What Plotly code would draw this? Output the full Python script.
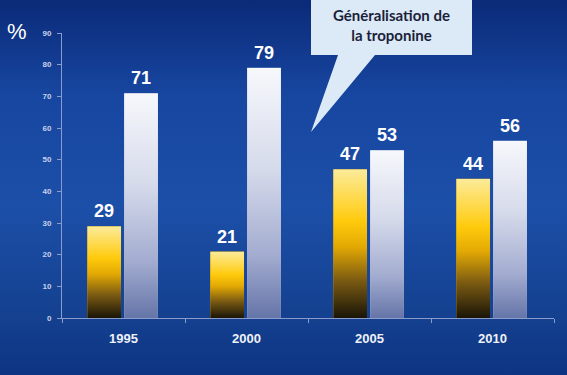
import base64
import plotly.graph_objects as go

# ---- data ----
years = ["1995", "2000", "2005", "2010"]
serie_jaune = [29, 21, 47, 44]
serie_grise = [71, 79, 53, 56]
y_ticks = [0, 10, 20, 30, 40, 50, 60, 70, 80, 90]
callout_text = "Généralisation de<br>la troponine"

W, H = 567, 375
ML, MR, MT, MB = 62, 13, 33, 57
PW, PH = W - ML - MR, H - MT - MB

BAR_W = 0.275
OFF_Y = -0.295
OFF_G = 0.005


def svg_grad(stops):
    st = "".join(f'<stop offset="{o}" stop-color="{c}"/>' for o, c in stops)
    svg = ('<svg xmlns="http://www.w3.org/2000/svg" width="10" height="100" preserveAspectRatio="none">'
           '<defs><linearGradient id="g" x1="0" y1="0" x2="0" y2="1">' + st +
           '</linearGradient></defs><rect width="10" height="100" fill="url(#g)"/></svg>')
    return "data:image/svg+xml;base64," + base64.b64encode(svg.encode()).decode()


yellow_src = svg_grad([("0", "#fbeb9a"), ("0.08", "#fde47a"), ("0.35", "#ffca0c"),
                       ("0.52", "#e3a904"), ("0.75", "#7a5a12"), ("1", "#1a1508")])
grey_src = svg_grad([("0", "#f7f8fc"), ("0.4", "#d6dbeb"), ("0.75", "#a3acd0"), ("1", "#6575a8")])
bg_src = svg_grad([("0", "#0b2a78"), ("0.25", "#1746a0"), ("0.55", "#1c4fa8"),
                   ("0.85", "#14408f"), ("1", "#0d3482")])

xs = list(range(len(years)))

fig = go.Figure()
fig.add_trace(go.Bar(x=xs, y=serie_jaune, width=BAR_W, offset=OFF_Y, name="Série 1",
                     marker=dict(color="#c8980a", line=dict(width=0)), showlegend=False))
fig.add_trace(go.Bar(x=xs, y=serie_grise, width=BAR_W, offset=OFF_G, name="Série 2",
                     marker=dict(color="#b8c0dc", line=dict(width=0)), showlegend=False))

images = [dict(source=bg_src, xref="paper", yref="paper", x=-ML / PW, y=1 + MT / PH,
               sizex=W / PW, sizey=H / PH, xanchor="left", yanchor="top",
               sizing="stretch", layer="below")]
annotations = []
for i, (a, b) in enumerate(zip(serie_jaune, serie_grise)):
    for v, off, src in ((a, OFF_Y, yellow_src), (b, OFF_G, grey_src)):
        images.append(dict(source=src, xref="x", yref="y", x=i + off, y=v, sizex=BAR_W, sizey=v,
                           xanchor="left", yanchor="top", sizing="stretch", layer="above"))
        annotations.append(dict(x=i + off + BAR_W / 2, y=v, xref="x", yref="y", text=str(v),
                                showarrow=False, yanchor="bottom", yshift=3,
                                font=dict(family="Liberation Sans", size=18, color="white", weight="bold")))

annotations.append(dict(x=(17 - ML) / PW, y=(H - MB - 32) / PH, xref="paper", yref="paper",
                        text="%", showarrow=False, xanchor="center", yanchor="middle",
                        font=dict(family="Liberation Sans", size=22, color="white")))
annotations.append(dict(x=(391 - ML) / PW, y=(H - MB - 25) / PH, xref="paper", yref="paper",
                        text=callout_text, showarrow=False, xanchor="center", yanchor="middle",
                        font=dict(family="Lato", size=15, color="#1b1f3a", weight="bold")))


def px(x):
    return (x - ML) / PW


def py(y):
    return (H - MB - y) / PH


path = (f"M {px(311)},{py(-6)} L {px(472)},{py(-6)} L {px(472)},{py(55)} "
        f"L {px(375)},{py(55)} L {px(311)},{py(132)} L {px(338)},{py(55)} "
        f"L {px(311)},{py(55)} Z")
shapes = [dict(type="path", xref="paper", yref="paper", path=path,
               fillcolor="#dce9f6", line=dict(width=0), layer="above")]

axis_col = "#8a9bcc"
fig.update_layout(
    width=W, height=H,
    margin=dict(l=ML, r=MR, t=MT, b=MB, pad=0),
    paper_bgcolor="#1848a0", plot_bgcolor="rgba(0,0,0,0)",
    barmode="overlay", showlegend=False,
    images=images, annotations=annotations, shapes=shapes,
    xaxis=dict(range=[-0.5, 3.5], tickmode="array", tickvals=xs, ticktext=years,
               showgrid=False, zeroline=False, showline=True, linecolor=axis_col, linewidth=1,
               ticks="", ticklabelstandoff=8,
               tickfont=dict(family="Liberation Sans", size=13, color="#eef1f8", weight="bold"),
               minor=dict(tickmode="array", tickvals=[-0.5, 0.5, 1.5, 2.5, 3.5], ticks="outside",
                          ticklen=4, tickcolor=axis_col, showgrid=False),
               fixedrange=True),
    yaxis=dict(range=[0, 90], tickmode="array", tickvals=y_ticks,
               showgrid=False, zeroline=False, showline=True, linecolor=axis_col, linewidth=1,
               ticks="outside", ticklen=4, tickcolor=axis_col, ticklabelstandoff=4,
               tickfont=dict(family="Liberation Sans", size=8, color="#c9d1ea", weight="bold"),
               fixedrange=True),
)

fig.write_html("out.html", config={"displayModeBar": False},
               post_script="document.body.style.margin='0';document.body.style.overflow='hidden';")
